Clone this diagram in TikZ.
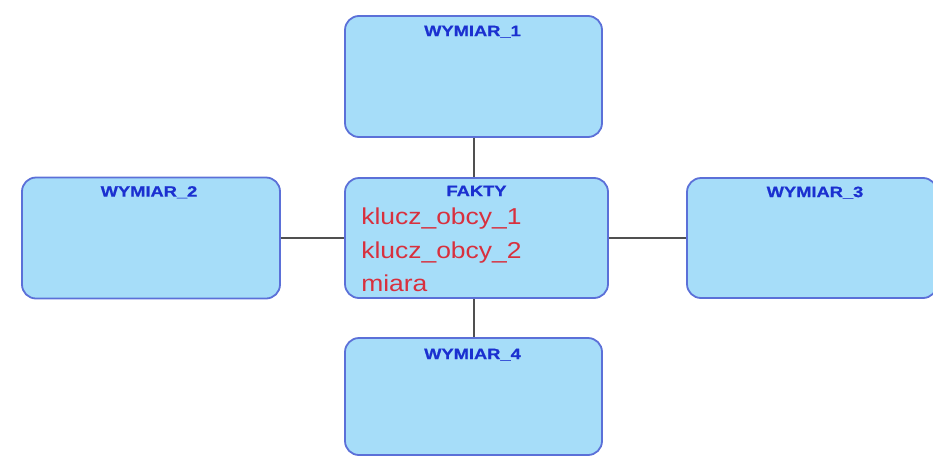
\documentclass[tikz,border=0pt]{standalone}
\usepackage{fontspec}
\setmainfont{Liberation Sans}
\newfontfamily\tytulfont[FakeStretch=1.22,FakeBold=0.8]{Liberation Sans Bold}
\newfontfamily\polefont[FakeStretch=1.15]{Liberation Sans}
\usepackage{tikz}
\definecolor{tabfill}{HTML}{A6DDF9}
\definecolor{tabdraw}{HTML}{5B70D8}
\definecolor{tytulblue}{HTML}{1B30D0}
\definecolor{polered}{HTML}{D8303E}
\definecolor{linia}{HTML}{505050}
\tikzset{
  tabela/.style     = {draw=tabdraw, fill=tabfill, line width=1.8pt,
                       rounded corners=14pt, inner sep=0pt},
  tytul/.style      = {tytulblue, font=\tytulfont\fontsize{15}{17}\selectfont,
                       inner sep=0pt, anchor=base},
  pola/.style       = {polered, font=\polefont\fontsize{23}{33.5}\selectfont,
                       align=left, inner sep=0pt, anchor=north west},
  polaczenie/.style = {draw=linia, line width=2pt}
}
\begin{document}
\begin{tikzpicture}[x=1pt,y=-1pt]
  \useasboundingbox (0,0) rectangle (933,458);
  % --- tables
  \node[tabela, minimum width=257pt, minimum height=121pt] (w1)    at (473.5,76.5) {};
  \node[tabela, minimum width=258pt, minimum height=121pt] (w2)    at (151,238) {};
  \node[tabela, minimum width=263pt, minimum height=120pt] (fakty) at (476.5,238) {};
  \node[tabela, minimum width=250pt, minimum height=120pt] (w3)    at (812,238) {};
  \node[tabela, minimum width=257pt, minimum height=117pt] (w4)    at (473.5,396.5) {};
  % --- titles
  \node[tytul] (t1) at ([xshift=-1pt,yshift=-21pt]w1.north)    {WYMIAR\_1};
  \node[tytul] (t2) at ([xshift=-2pt,yshift=-20pt]w2.north)    {WYMIAR\_2};
  \node[tytul] (tf) at ([xshift=0pt,yshift=-19pt]fakty.north)  {FAKTY};
  \node[tytul] (t3) at ([xshift=3pt,yshift=-20pt]w3.north)     {WYMIAR\_3};
  \node[tytul] (t4) at ([xshift=-1pt,yshift=-22pt]w4.north)    {WYMIAR\_4};
  % --- fact columns
  \node[pola] (klucze) at ([xshift=17pt,yshift=-31pt]fakty.north west)
       {klucz\_obcy\_1\\klucz\_obcy\_2\\miara};
  % --- connectors
  \draw[polaczenie] (w1.south) -- (w1.south |- fakty.north);
  \draw[polaczenie] (w4.north |- fakty.south) -- (w4.north);
  \draw[polaczenie] (w2.east) -- (fakty.west);
  \draw[polaczenie] (fakty.east) -- (w3.west);
\end{tikzpicture}
\end{document}
